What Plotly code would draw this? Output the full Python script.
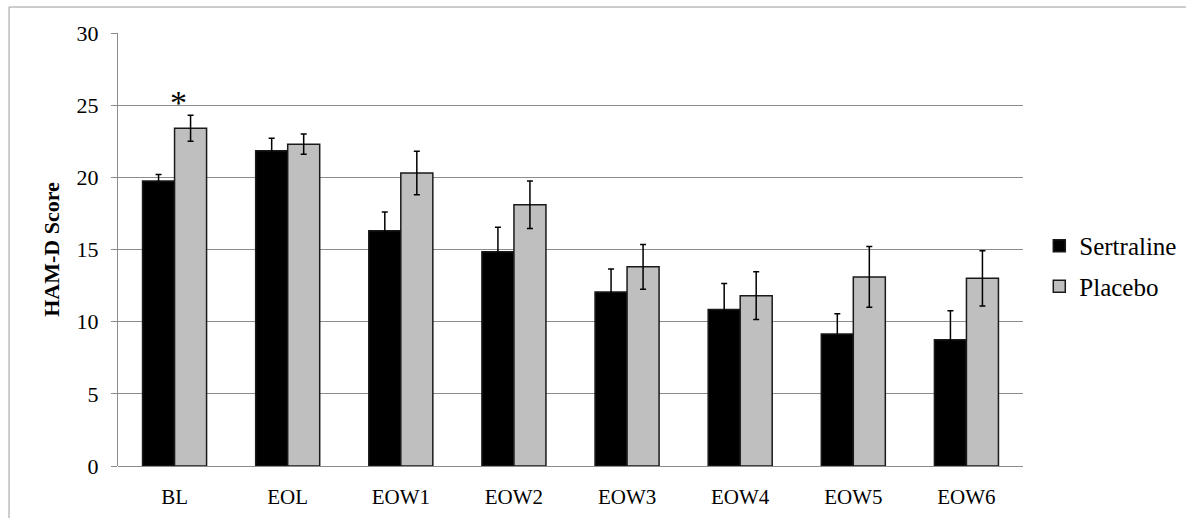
import plotly.graph_objects as go

categories = ["BL", "EOL", "EOW1", "EOW2", "EOW3", "EOW4", "EOW5", "EOW6"]
sertraline = [19.75, 21.85, 16.3, 14.85, 12.05, 10.85, 9.15, 8.75]
sertraline_err = [0.45, 0.85, 1.3, 1.7, 1.6, 1.8, 1.4, 2.0]
placebo = [23.4, 22.3, 20.3, 18.1, 13.8, 11.8, 13.1, 13.0]
placebo_err = [0.9, 0.7, 1.5, 1.65, 1.55, 1.65, 2.1, 1.92]
y_ticks = [0, 5, 10, 15, 20, 25, 30]

SERIF = "Liberation Serif, DejaVu Serif, serif"

fig = go.Figure()
fig.add_trace(go.Bar(
    name="Sertraline", x=categories, y=sertraline, legendgroup="s",
    marker=dict(color="#000000", line=dict(color="#1a1a1a", width=1.5)),
    error_y=dict(type="data", array=sertraline_err, visible=True,
                 color="#000000", thickness=1.5, width=3),
))
fig.add_trace(go.Bar(
    name="Placebo", x=categories, y=placebo, legendgroup="p",
    marker=dict(color="#bfbfbf", line=dict(color="#1a1a1a", width=1.5)),
    error_y=dict(type="data", array=placebo_err, visible=True,
                 color="#000000", thickness=1.5, width=3),
))

fig.add_annotation(x=categories[0], y=placebo[0] + placebo_err[0], xshift=4,
                   text="*", showarrow=False, yanchor="bottom", yshift=-8,
                   font=dict(family=SERIF, size=34, color="#000000"))

fig.add_shape(type="rect", xref="paper", yref="paper",
              x0=-0.1204, x1=1.35, y0=-0.3, y1=1.06,
              line=dict(color="#9a9a9a", width=1), layer="below")

fig.update_layout(
    width=1186, height=518,
    margin=dict(l=118, r=163, t=33, b=52, autoexpand=False),
    paper_bgcolor="white", plot_bgcolor="white",
    barmode="group", bargap=0.434, bargroupgap=0,
    showlegend=True,
    legend=dict(x=1.018, y=0.462, xanchor="left", yanchor="middle",
                font=dict(family=SERIF, size=25, color="#000000"),
                itemwidth=30, tracegroupgap=5, bgcolor="rgba(0,0,0,0)"),
    xaxis=dict(showgrid=False, showline=False, ticks="",
               ticklabelstandoff=16,
               tickfont=dict(family=SERIF, size=21, color="#000000")),
    yaxis=dict(range=[0, 30], tickvals=y_ticks, showgrid=True,
               gridcolor="#8c8c8c", gridwidth=1, zeroline=True,
               zerolinecolor="#8c8c8c", zerolinewidth=1,
               showline=True, linecolor="#8c8c8c", linewidth=1,
               ticks="outside", ticklen=6, tickcolor="#8c8c8c",
               ticklabelstandoff=8,
               tickfont=dict(family=SERIF, size=22, color="#000000")),
)
fig.update_yaxes(title=dict(text="<b>HAM-D Score</b>", standoff=10,
                            font=dict(family=SERIF, size=22, color="#000000")))

fig.write_html("out.html", config={"displayModeBar": False},
               post_script="document.body.style.margin='0';")
